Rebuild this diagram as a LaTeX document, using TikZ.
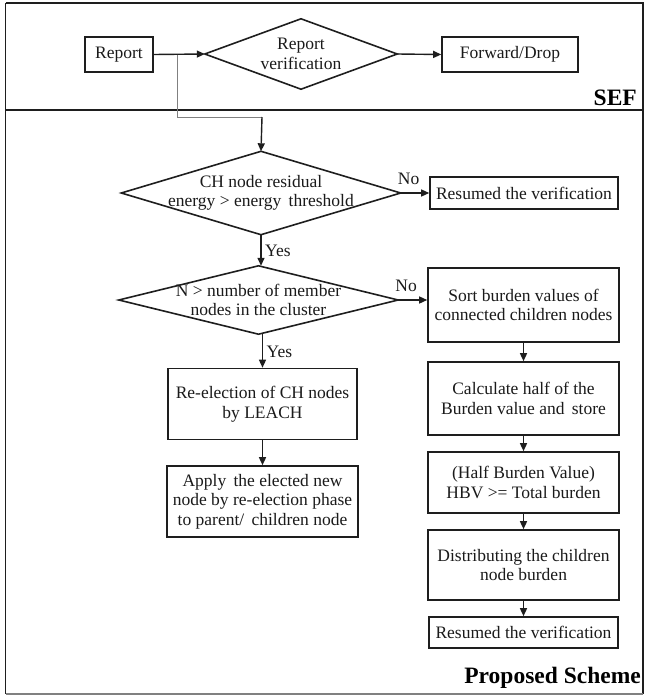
\documentclass[tikz,border=0pt]{standalone}
\usepackage{fontspec}
\setmainfont{Liberation Serif}
\usetikzlibrary{arrows.meta,calc}

\definecolor{ink}{HTML}{1E1E1E}
\definecolor{txt}{HTML}{1A1A1A}

\tikzset{
  every node/.style={text=txt, font=\fontsize{17.5}{19.5}\selectfont},
  box/.style={draw=ink, line width=1.6pt, align=center, inner sep=0pt},
  decision/.style={align=center, inner sep=0pt},
  outline/.style={draw=ink, line width=1.6pt, line join=miter},
  edge/.style={draw=ink, line width=1.4pt, -{Triangle[length=8pt,width=7pt]}},
  tap/.style={draw=gray, line width=0.9pt},
  frame/.style={draw=ink, line width=1.6pt},
  answer/.style={inner sep=0pt},
  title/.style={font=\fontsize{23.5}{26}\selectfont\bfseries, text=black, inner sep=0pt}
}

\begin{document}
\begin{tikzpicture}[x=1pt, y=-1pt]
\useasboundingbox (0,0) rectangle (645,696);

% outer frame and the divider between the two parts
\draw[frame] (5.5,3) -- (643,3) -- (643,694);
\draw[frame] (5.5,3) -- (5.5,694);
\draw[draw=gray, line width=1.2pt] (5.5,694) -- (643,694);
\draw[frame] (5.5,110) -- (643,110);

% SEF part
\node[box, minimum width=68pt, minimum height=35pt] (rep) at (119,54.5) {Report};
\node[decision, minimum width=192pt, minimum height=70pt] (rv) at (301,54) {Report\\verification};
\node[box, minimum width=136pt, minimum height=35pt] (fwd) at (510,54.5) {Forward/Drop};
\node[title, anchor=base east] (sef) at (637,105) {SEF};

% proposed scheme: left column
\node[decision, minimum width=279pt, minimum height=83pt] (d1) at (261,193) {CH node residual\\energy {>} energy\, threshold};
\node[decision, minimum width=279pt, minimum height=68pt] (d2) at (258.5,300) {N {>} number of member\\nodes in the cluster};
\node[box, minimum width=189pt, minimum height=71pt] (reel) at (262.5,404) {Re-election of CH nodes\\by LEACH};
\node[box, minimum width=191pt, minimum height=71pt] (apply) at (262.5,501.5) {Apply\, the elected new\\node by re-election phase\\to parent/\, children node};

% proposed scheme: right column
\node[box, minimum width=188pt, minimum height=32pt] (res1) at (524,193) {Resumed the verification};
\node[box, minimum width=191pt, minimum height=74pt] (sort) at (523.5,305) {Sort burden values of\\connected children nodes};
\node[box, minimum width=191pt, minimum height=73pt] (calc) at (523.5,398.5) {Calculate half of the\\Burden value and\, store};
\node[box, minimum width=191pt, minimum height=61pt] (hbv) at (523.5,482.5) {(Half Burden Value)\\HBV {>}= Total burden};
\node[box, minimum width=191pt, minimum height=70pt] (dist) at (523.5,565) {Distributing the children\\node burden};
\node[box, minimum width=189pt, minimum height=31pt] (res2) at (523.5,632.5) {Resumed the verification};
\node[title, anchor=base east] (prop) at (641,683) {Proposed Scheme};

% decision outlines
\foreach \d in {rv,d1,d2}
  \draw[outline] (\d.north) -- (\d.east) -- (\d.south) -- (\d.west) -- cycle;

% connectors
\coordinate (split) at (177,54.5);
\coordinate (bend) at (262,117);
\draw[edge] (rep.east) -- (rv.west);
\draw[edge] (rv.east) -- (fwd.west);
\draw[tap] (split) |- (bend);
\draw[edge] (bend) -- (d1.north);

\draw[edge] (d1.south) -- (d2.north -| d1.south);
\node[answer, anchor=west] (y1) at ($(d1.south)!0.5!(d2.north -| d1.south)+(4,1)$) {Yes};
\draw[edge] (d1.east) -- (res1.west);
\node[answer, anchor=south west] (n1) at ($(d1.east)+(-3,-8)$) {No};
\draw[edge] (d2.south -| reel.north) -- (reel.north);
\node[answer, anchor=west] (y2) at ($(d2.south -| reel.north)!0.5!(reel.north)+(4,1)$) {Yes};
\draw[edge] (d2.east) -- (d2.east -| sort.west);
\node[answer, anchor=south west] (n2) at ($(d2.east)+(-3,-8)$) {No};
\draw[edge] (reel.south) -- (apply.north);

\draw[edge] (sort.south) -- (calc.north);
\draw[edge] (calc.south) -- (hbv.north);
\draw[edge] (hbv.south) -- (dist.north);
\draw[edge] (dist.south) -- (res2.north);
\end{tikzpicture}
\end{document}
